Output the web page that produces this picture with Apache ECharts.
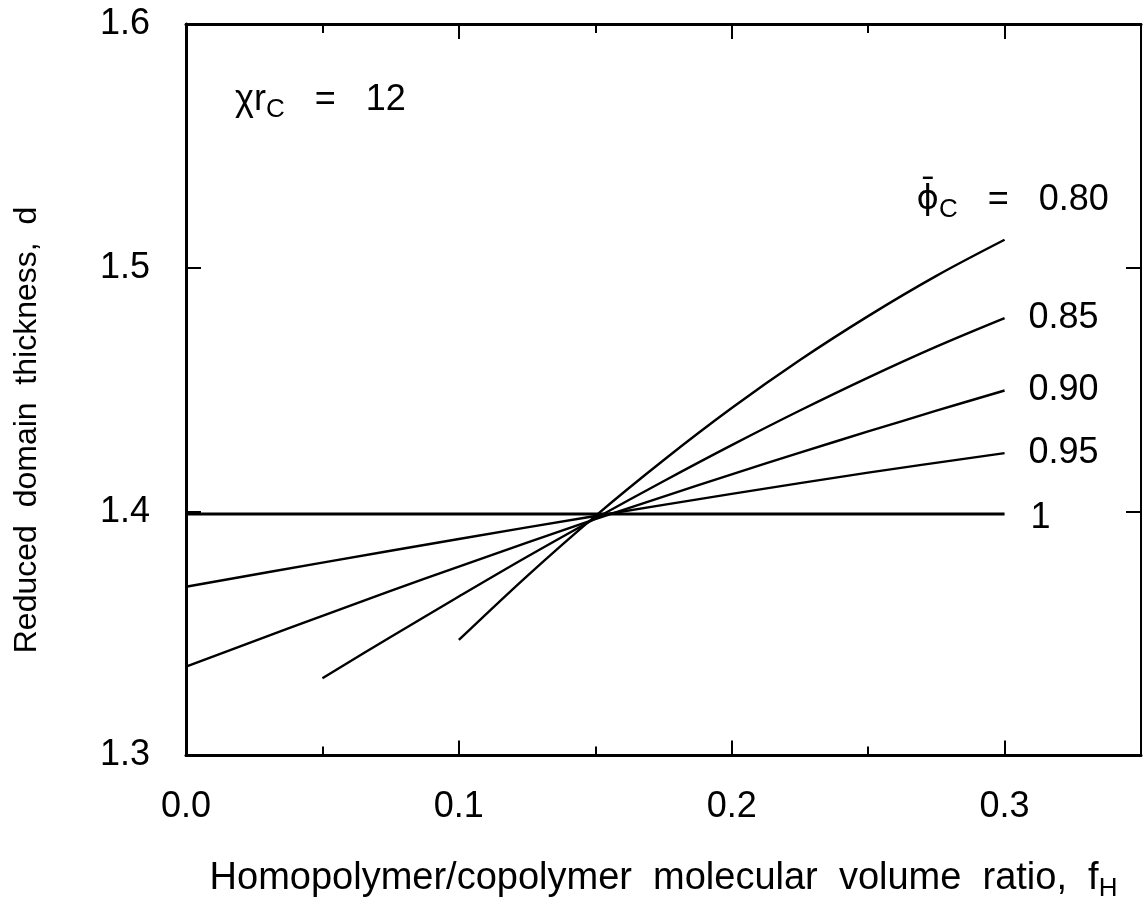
<!DOCTYPE html>
<html><head><meta charset="utf-8">
<script src="https://cdn.jsdelivr.net/npm/echarts@6/dist/echarts.min.js"></script>
<style>html,body{margin:0;padding:0;background:#fff}#c{width:1143px;height:901px}</style>
</head><body><div id="c"></div>
<script>
// ---- data ----
const xMajorTicks = [0.0, 0.1, 0.2, 0.3];
const xMinorTicks = [0.05, 0.15, 0.25];
const yTicks = [1.3, 1.4, 1.5, 1.6];

const fH_080 = [0.1, 0.125, 0.15, 0.175, 0.2, 0.225, 0.25, 0.275, 0.3];
const d_080  = [1.3474, 1.3736, 1.3982, 1.4211, 1.4425, 1.4622, 1.4802, 1.4967, 1.5115];

const fH_085 = [0.05, 0.075, 0.1, 0.125, 0.15, 0.175, 0.2, 0.225, 0.25, 0.275, 0.3];
const d_085  = [1.3317, 1.3486, 1.3652, 1.3815, 1.3972, 1.4125, 1.4273, 1.4415, 1.4550, 1.4677, 1.4794];

const fH_090 = [0, 0.025, 0.05, 0.075, 0.1, 0.125, 0.15, 0.175, 0.2, 0.225, 0.25, 0.275, 0.3];
const d_090  = [1.3364, 1.3469, 1.3573, 1.3675, 1.3775, 1.3873, 1.3969, 1.4062, 1.4153, 1.4242, 1.4329, 1.4414, 1.4497];

const fH_095 = [0, 0.05, 0.1, 0.15, 0.2, 0.25, 0.3];
const d_095  = [1.3692, 1.3791, 1.3888, 1.3982, 1.4073, 1.4160, 1.4240];

const fH_100 = [0, 0.3];
const d_100  = [1.399, 1.399];

const seriesNames = ['0.80', '0.85', '0.90', '0.95', '1'];

// ---- chart ----
const FONT = '"Liberation Sans", Arial, Helvetica, sans-serif';
const FS = 36;
const zip = (xs, ys) => xs.map((x, i) => [x, ys[i]]);

const baseLabel = {show: true, color: '#000', fontFamily: FONT, fontSize: FS};

function mkSeries(name, xs, ys, width, labelOpt) {
  return {
    type: 'line', name, data: zip(xs, ys), xAxisIndex: 0, yAxisIndex: 0,
    symbol: 'none', silent: true, smooth: 0.35,
    lineStyle: {color: '#000', width},
    endLabel: Object.assign({}, baseLabel, labelOpt)
  };
}

const sub = {fontFamily: FONT, fontSize: 26, color: '#000', padding: [20, 0, 0, 0]};
const main = {fontFamily: FONT, fontSize: FS, color: '#000'};
const phi = {fontFamily: '"DejaVu Sans", sans-serif', fontSize: 34, color: '#000'};

const chart = echarts.init(document.getElementById('c'), null, {renderer: 'canvas'});

const xCommon = {type: 'value', min: 0, max: 0.35, splitLine: {show: false}};
const yCommon = {type: 'value', min: 1.3, max: 1.6, interval: 0.1, splitLine: {show: false}};

chart.setOption({
  animation: false,
  backgroundColor: '#fff',
  grid: {left: 186, right: 2, top: 24, bottom: 145.5, containLabel: false, outerBoundsMode: 'none'},
  xAxis: [
    Object.assign({}, xCommon, {
      position: 'bottom',
      axisLine: {show: true, onZero: false, lineStyle: {color: '#000', width: 3}},
      axisTick: {show: true, inside: true, length: 9, customValues: xMinorTicks, lineStyle: {color: '#000', width: 2}},
      axisLabel: {show: true, customValues: xMajorTicks, margin: 34, color: '#000', fontFamily: FONT, fontSize: FS,
        formatter: v => v.toFixed(1)},
      name: '{t|Homopolymer/copolymer  molecular  volume  ratio,  f}{s|H}',
      nameLocation: 'middle', nameGap: 100,
      nameTextStyle: {rich: {t: Object.assign({}, main, {fontSize: 38}), s: sub}}
    }),
    Object.assign({}, xCommon, {
      position: 'bottom',
      axisLine: {show: false},
      axisTick: {show: true, inside: true, length: 15, customValues: xMajorTicks.slice(1), lineStyle: {color: '#000', width: 2}},
      axisLabel: {show: false}
    }),
    Object.assign({}, xCommon, {
      position: 'top',
      axisLine: {show: true, onZero: false, lineStyle: {color: '#000', width: 3}},
      axisTick: {show: true, inside: true, length: 9, customValues: xMinorTicks, lineStyle: {color: '#000', width: 2}},
      axisLabel: {show: false}
    }),
    Object.assign({}, xCommon, {
      position: 'top',
      axisLine: {show: false},
      axisTick: {show: true, inside: true, length: 15, customValues: xMajorTicks.slice(1), lineStyle: {color: '#000', width: 2}},
      axisLabel: {show: false}
    })
  ],
  yAxis: [
    Object.assign({}, yCommon, {
      position: 'left',
      axisLine: {show: true, onZero: false, lineStyle: {color: '#000', width: 3}},
      axisTick: {show: true, inside: true, length: 15, customValues: [1.4, 1.5], lineStyle: {color: '#000', width: 2}},
      axisLabel: {show: true, customValues: yTicks, margin: 36, color: '#000', fontFamily: FONT, fontSize: FS,
        formatter: v => v.toFixed(1)}
    }),
    Object.assign({}, yCommon, {
      position: 'right',
      axisLine: {show: true, onZero: false, lineStyle: {color: '#000', width: 2}},
      axisTick: {show: true, inside: true, length: 15, customValues: [1.4, 1.5], lineStyle: {color: '#000', width: 2}},
      axisLabel: {show: false}
    })
  ],
  graphic: [
    {type: 'text', x: 27, y: 430, rotation: Math.PI / 2,
      style: {text: 'Reduced  domain  thickness,  d', fill: '#000', font: `32px ${FONT}`,
        textAlign: 'center', textVerticalAlign: 'middle'}},
    {type: 'text', x: 235, y: 100,
      style: {text: '{t|χr}{s|C}{t|   =   12}', rich: {t: main, s: sub}, textVerticalAlign: 'middle'}}
  ],
  series: [
    mkSeries(seriesNames[0], fH_080, d_080, 2.4, {distance: 0, offset: [-88, -40],
      formatter: '{p|ϕ̄}{s|C}{t|   =   0.80}', rich: {t: main, s: sub, p: phi}}),
    mkSeries(seriesNames[1], fH_085, d_085, 2.4, {distance: 24, formatter: '0.85'}),
    mkSeries(seriesNames[2], fH_090, d_090, 2.4, {distance: 24, formatter: '0.90'}),
    mkSeries(seriesNames[3], fH_095, d_095, 2.4, {distance: 24, formatter: '0.95'}),
    mkSeries(seriesNames[4], fH_100, d_100, 3, {distance: 26, offset: [0, 4], formatter: '1'})
  ]
});
</script></body></html>
